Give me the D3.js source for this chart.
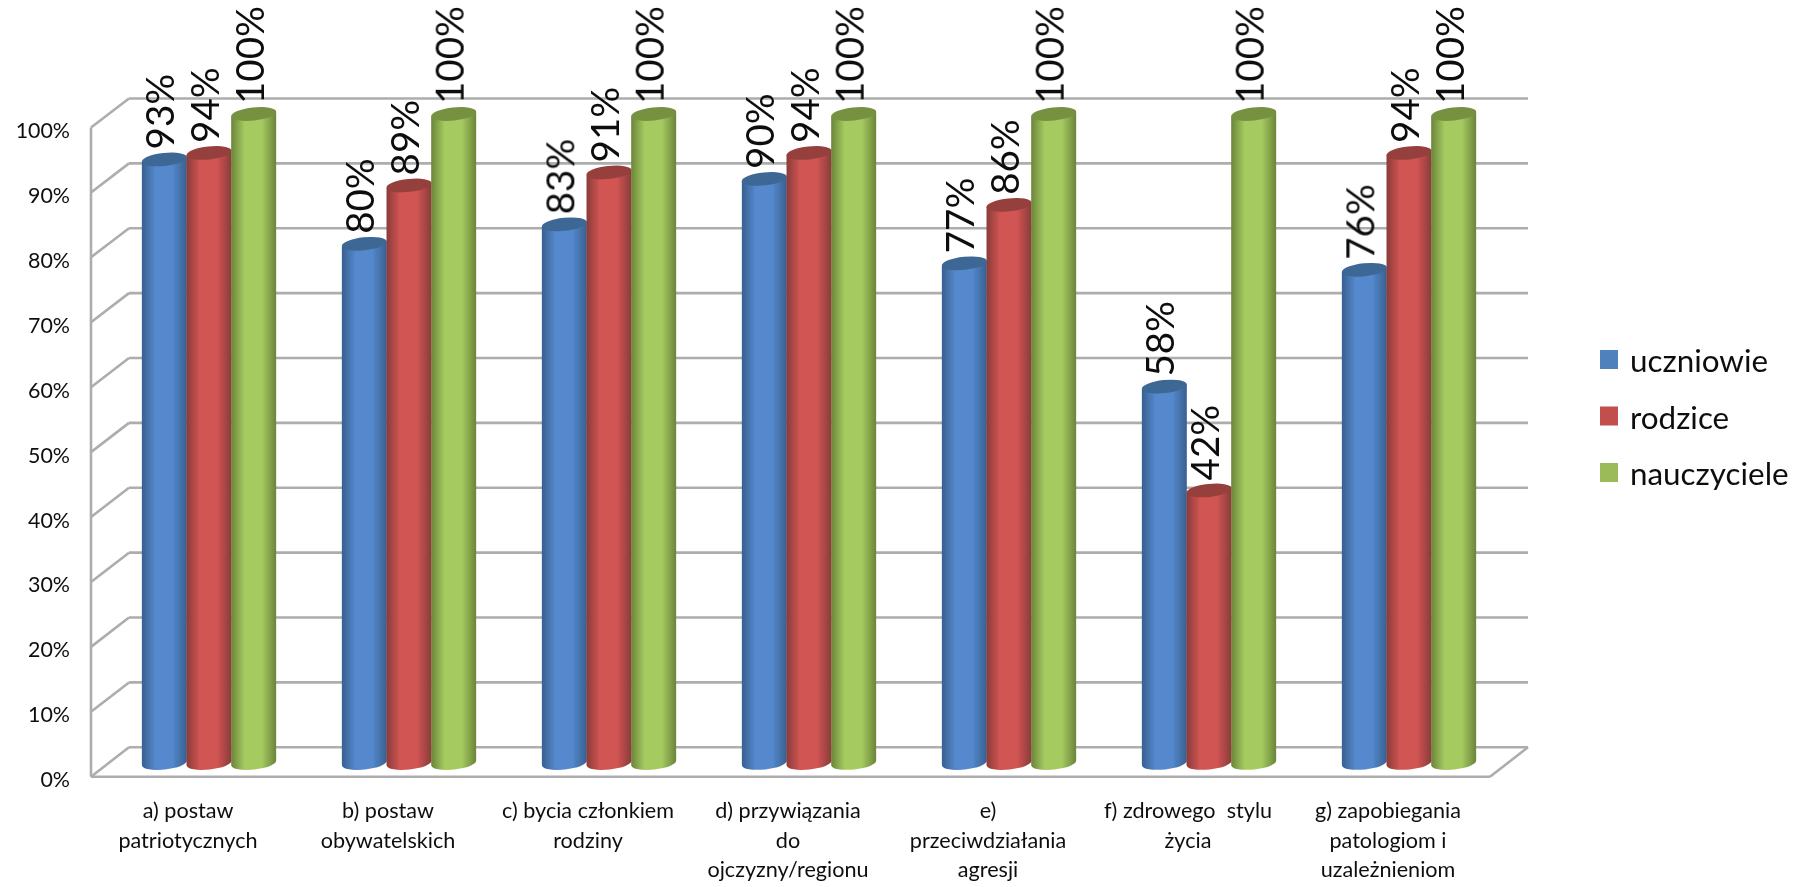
<!DOCTYPE html>
<html><head><meta charset="utf-8">
<script src="https://cdn.jsdelivr.net/npm/d3@7"></script>
<style>html,body{margin:0;background:#fff}svg{display:block}text{font-family:Lato,"Open Sans",sans-serif;fill:#111}</style>
</head><body><div id="c"></div>
<script>
const categories=[["a) postaw","patriotycznych"],["b) postaw","obywatelskich"],["c) bycia członkiem","rodziny"],["d) przywiązania","do","ojczyzny/regionu"],["e)","przeciwdziałania","agresji"],["f) zdrowego  stylu","życia"],["g) zapobiegania","patologiom i","uzależnieniom"]];
const seriesNames=["uczniowie","rodzice","nauczyciele"];
const uczniowie=[93,80,83,90,77,58,76];
const rodzice=[94,89,91,94,86,42,94];
const nauczyciele=[100,100,100,100,100,100,100];
const seriesValues=[uczniowie,rodzice,nauczyciele];
const tickValues=[0,10,20,30,40,50,60,70,80,90,100];
const palette=[{e:"#38608f",c:"#5488cc",t:"#3d6795",s:"#4f81bd"},{e:"#8a3b39",c:"#d05553",t:"#963f3d",s:"#c0504d"},{e:"#6a853a",c:"#a5ca60",t:"#76923f",s:"#9bbb59"}];

const W=1805,H=887;
const svg=d3.select("#c").append("svg").attr("width",W).attr("height",H);
const defs=svg.append("defs");
palette.forEach((p,i)=>{
  const g=defs.append("linearGradient").attr("id","g"+i);
  [[0,p.e],[.3,p.c],[.68,p.c],[1,p.e]].forEach(s=>g.append("stop").attr("offset",s[0]).attr("stop-color",s[1]));
});
defs.append("filter").attr("id","soft").append("feGaussianBlur").attr("stdDeviation",0.7);
defs.append("filter").attr("id","softText").append("feGaussianBlur").attr("stdDeviation",0.45);

const yBack=d3.scaleLinear().domain([0,100]).range([747.3,98.5]);
const yFront=d3.scaleLinear().domain([0,100]).range([776.7,127.5]);
const yBar=d3.scaleLinear().domain([0,100]).range([763,114]);
const x=d3.scaleBand().domain(d3.range(7)).range([88,1488]);
const xs=d3.scaleBand().domain(d3.range(3)).range([54,188]);
const wallL=91,wallB=129,wallR=1528,floorR=1490;
const grid=svg.append("g").attr("filter","url(#soft)").attr("fill","none").attr("stroke","#adadad").attr("stroke-width",2.6);
tickValues.forEach(t=>{
  grid.append("line").attr("x1",wallB).attr("x2",wallR).attr("y1",yBack(t)).attr("y2",yBack(t));
  grid.append("line").attr("x1",wallL).attr("x2",wallB).attr("y1",yFront(t)).attr("y2",yBack(t));
});
grid.append("line").attr("x1",wallL).attr("x2",wallL).attr("y1",yFront(100)).attr("y2",yFront(0));
grid.append("line").attr("x1",wallL).attr("x2",floorR).attr("y1",yFront(0)).attr("y2",yFront(0));
grid.append("line").attr("x1",floorR).attr("x2",wallR).attr("y1",yFront(0)).attr("y2",yBack(0));

// y axis labels
svg.append("g").attr("filter","url(#softText)").selectAll("text").data(tickValues).join("text")
  .attr("x",70).attr("y",d=>yFront(d)+10.5).attr("text-anchor","end").attr("font-size",21.4).text(d=>d+"%");

// data labels
const lab=svg.append("g").attr("filter","url(#softText)");
seriesValues.forEach((vals,s)=>{
  lab.selectAll(null).data(vals).join("text")
    .attr("font-size",38.5)
    .attr("transform",(d,i)=>`translate(${x(i)+xs(s)+xs.bandwidth()/2+10},${yBar(d)-10}) rotate(-90)`)
    .text(d=>d+"%");
});

// cylinders
const rx=22.6,ry=6.5,tilt=6*Math.PI/180;
const bars=svg.append("g").attr("filter","url(#soft)");
seriesValues.forEach((vals,s)=>{
  vals.forEach((v,i)=>{
    const cx=x(i)+xs(s)+xs.bandwidth()/2, dx=rx*Math.cos(tilt), dy=rx*Math.sin(tilt);
    const yt=yBar(v), yb=yBar(0);
    bars.append("path").attr("fill",`url(#g${s})`)
      .attr("d",`M${cx-dx},${yt+dy}L${cx-dx},${yb+dy}A${rx},${ry} -6 0 0 ${cx+dx},${yb-dy}L${cx+dx},${yt-dy}Z`);
    bars.append("ellipse").attr("rx",rx).attr("ry",ry).attr("fill",palette[s].t)
      .attr("transform",`translate(${cx},${yt}) rotate(-6)`);
  });
});

// category labels
const cat=svg.append("g").attr("filter","url(#softText)");
categories.forEach((lines,i)=>{
  const t=cat.append("text").attr("text-anchor","middle").attr("font-size",21.6).style("white-space","pre");
  lines.forEach((l,j)=>t.append("tspan").attr("x",x(i)+x.bandwidth()/2).attr("y",818+j*29.6).text(l));
});

// legend
const leg=svg.append("g").attr("filter","url(#softText)");
seriesNames.forEach((n,i)=>{
  const yy=350+i*56.5;
  leg.append("rect").attr("x",1600).attr("y",yy).attr("width",18).attr("height",19).attr("fill",palette[i].s);
  leg.append("text").attr("x",1630).attr("y",yy+22).attr("font-size",31.4).text(n);
});
</script></body></html>
